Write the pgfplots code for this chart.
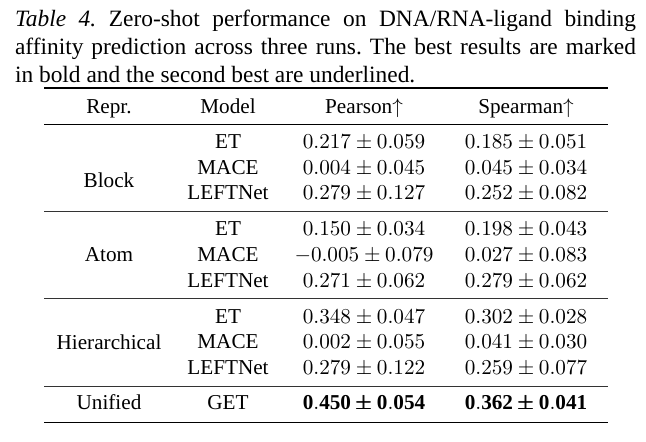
\RequirePackage{fix-cm}
\documentclass[border=0pt]{standalone}
\usepackage{amsmath}
\usepackage{fontspec}
\setmainfont{Liberation Serif}
\usepackage{pgfplots}
\pgfplotsset{compat=1.18}
\newcommand{\cellfont}{\fontsize{10.6}{12.7}\selectfont}
\newcommand{\capfont}{\fontsize{11.7}{14.1}\selectfont}
\newcommand{\bpm}{\mathbin{\pmb{\pm}}}
\begin{document}
\frenchspacing
\begin{tikzpicture}
\begin{axis}[
  name=ax,
  scale only axis, width=323pt, height=220.5pt,
  xmin=0, xmax=646, ymin=0, ymax=441, y dir=reverse,
  hide axis, clip=false,
]
\addplot[draw=none] coordinates {(0,0) (646,441)};
\addplot[black, line width=0.75pt] coordinates {(44,88) (607.5,88)};
\addplot[black, line width=0.45pt] coordinates {(44,124) (607.5,124)};
\addplot[black!80, line width=0.5pt] coordinates {(44,211.7) (607.5,211.7)};
\addplot[black!80, line width=0.5pt] coordinates {(44,298.7) (607.5,298.7)};
\addplot[black!80, line width=0.5pt] coordinates {(44,386) (607.5,386)};
\addplot[black, line width=0.75pt] coordinates {(44,422.3) (607.5,422.3)};
\end{axis}
\begin{scope}[shift={(ax.north west)}, x=0.5pt, y=-0.5pt,
  every node/.style={font=\cellfont, inner sep=0pt, outer sep=0pt, anchor=base}]
\node[anchor=base west, font=\capfont] at (15,26.2) {\makebox[310.5pt][s]{\textit{Table 4.} Zero-shot performance on DNA/RNA-ligand binding}};
\node[anchor=base west, font=\capfont] at (15,54.4) {\makebox[310.5pt][s]{affinity prediction across three runs. The best results are marked}};
\node[anchor=base west, font=\capfont] at (15,82.6) {in bold and the second best are underlined.};
\node at (109,113.3) {Repr.};
\node at (228,113.3) {Model};
\node at (364,113.3) {Pearson$\uparrow$};
\node at (526,113.3) {Spearman$\uparrow$};
\node at (109,187.3) {Block};
\node at (228,149) {ET};
\node at (228,174.3) {MACE};
\node at (228,199.5) {LEFTNet};
\node at (364,149) {$0.217\pm0.059$};
\node at (364,174.3) {$0.004\pm0.045$};
\node at (364,199.5) {$0.279\pm0.127$};
\node at (526,149) {$0.185\pm0.051$};
\node at (526,174.3) {$0.045\pm0.034$};
\node at (526,199.5) {$0.252\pm0.082$};
\node at (109,261.5) {Atom};
\node at (228,235.7) {ET};
\node at (228,261.5) {MACE};
\node at (228,287.3) {LEFTNet};
\node at (364,235.7) {$0.150\pm0.034$};
\node at (364,261.5) {$-0.005\pm0.079$};
\node at (364,287.3) {$0.271\pm0.062$};
\node at (526,235.7) {$0.198\pm0.043$};
\node at (526,261.5) {$0.027\pm0.083$};
\node at (526,287.3) {$0.279\pm0.062$};
\node at (109,349.2) {Hierarchical};
\node at (228,323.3) {ET};
\node at (228,349) {MACE};
\node at (228,374.3) {LEFTNet};
\node at (364,323.3) {$0.348\pm0.047$};
\node at (364,349) {$0.002\pm0.055$};
\node at (364,374.3) {$0.279\pm0.122$};
\node at (526,323.3) {$0.302\pm0.028$};
\node at (526,349) {$0.041\pm0.030$};
\node at (526,374.3) {$0.259\pm0.077$};
\node at (109,410) {Unified};
\node at (228,410) {GET};
\node at (364,410) {$\mathbf{0.450}\bpm\mathbf{0.054}$};
\node at (526,410) {$\mathbf{0.362}\bpm\mathbf{0.041}$};
\end{scope}
\end{tikzpicture}
\end{document}
